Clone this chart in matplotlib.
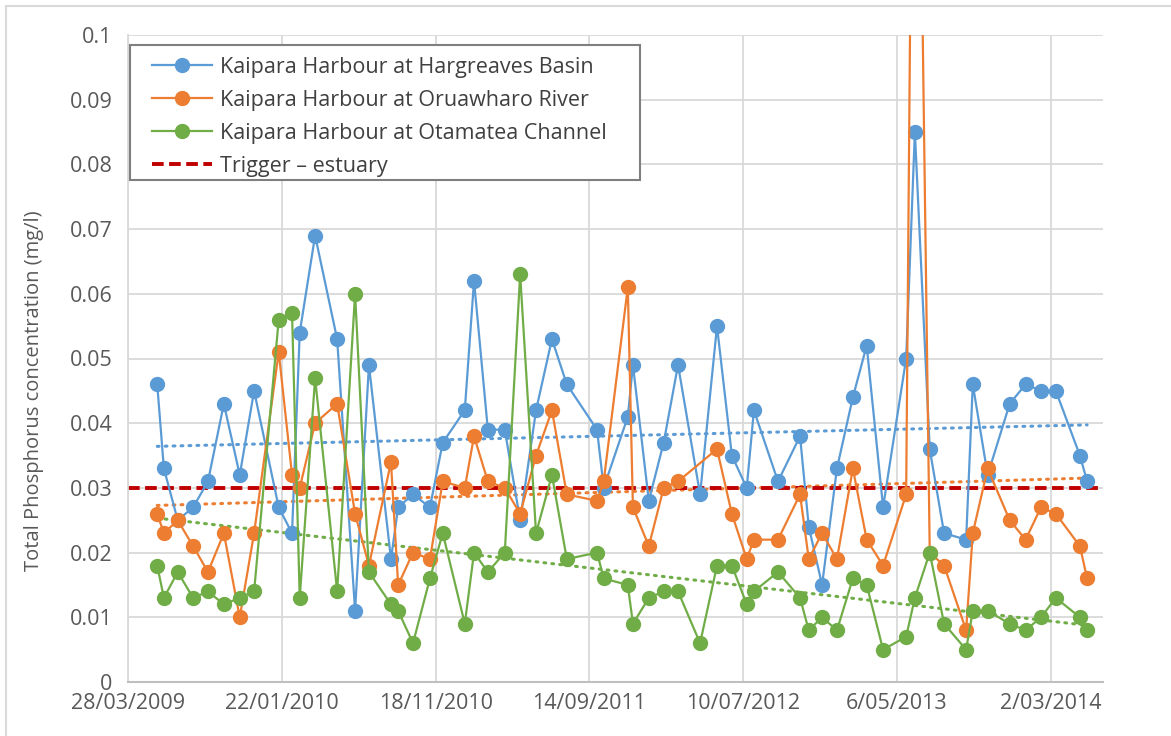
import datetime as dt

import numpy as np
import matplotlib
matplotlib.use("Agg")
import matplotlib.pyplot as plt
import matplotlib.dates as mdates
from matplotlib.lines import Line2D
from matplotlib.legend_handler import HandlerLine2D
from matplotlib.patches import Rectangle
from matplotlib.ticker import FuncFormatter, MultipleLocator

# Sampling dates (shared by the three sites)
dates = [
    "2009-05-24", "2009-06-06", "2009-07-03", "2009-08-02", "2009-08-31",
    "2009-10-01", "2009-11-01", "2009-11-29", "2010-01-16", "2010-02-11",
    "2010-02-26", "2010-03-28", "2010-05-10", "2010-06-14", "2010-07-11",
    "2010-08-23", "2010-09-06", "2010-10-05", "2010-11-07", "2010-12-02",
    "2011-01-14", "2011-02-01", "2011-02-28", "2011-04-02", "2011-05-02",
    "2011-06-02", "2011-07-03", "2011-08-01", "2011-09-29", "2011-10-12",
    "2011-11-28", "2011-12-08", "2012-01-08", "2012-02-06", "2012-03-05",
    "2012-04-17", "2012-05-20", "2012-06-18", "2012-07-17", "2012-07-31",
    "2012-09-16", "2012-10-29", "2012-11-15", "2012-12-11", "2013-01-09",
    "2013-02-09", "2013-03-08", "2013-04-09", "2013-05-24", "2013-06-10",
    "2013-07-09", "2013-08-06", "2013-09-18", "2013-10-01", "2013-10-30",
    "2013-12-12", "2014-01-12", "2014-02-11", "2014-03-12", "2014-04-28",
    "2014-05-12",
]

# Total phosphorus (mg/l)
hargreaves = [
    0.046, 0.033, 0.025, 0.027, 0.031, 0.043, 0.032, 0.045, 0.027, 0.023,
    0.054, 0.069, 0.053, 0.011, 0.049, 0.019, 0.027, 0.029, 0.027, 0.037,
    0.042, 0.062, 0.039, 0.039, 0.025, 0.042, 0.053, 0.046, 0.039, 0.030,
    0.041, 0.049, 0.028, 0.037, 0.049, 0.029, 0.055, 0.035, 0.030, 0.042,
    0.031, 0.038, 0.024, 0.015, 0.033, 0.044, 0.052, 0.027, 0.050, 0.085,
    0.036, 0.023, 0.022, 0.046, 0.032, 0.043, 0.046, 0.045, 0.045, 0.035,
    0.031,
]
oruawharo = [
    0.026, 0.023, 0.025, 0.021, 0.017, 0.023, 0.010, 0.023, 0.051, 0.032,
    0.030, 0.040, 0.043, 0.026, 0.018, 0.034, 0.015, 0.020, 0.019, 0.031,
    0.030, 0.038, 0.031, 0.030, 0.026, 0.035, 0.042, 0.029, 0.028, 0.031,
    0.061, 0.027, 0.021, 0.030, 0.031, np.nan, 0.036, 0.026, 0.019, 0.022,
    0.022, 0.029, 0.019, 0.023, 0.019, 0.033, 0.022, 0.018, 0.029, 0.190,
    0.020, 0.018, 0.008, 0.023, 0.033, 0.025, 0.022, 0.027, 0.026, 0.021,
    0.016,
]
otamatea = [
    0.018, 0.013, 0.017, 0.013, 0.014, 0.012, 0.013, 0.014, 0.056, 0.057,
    0.013, 0.047, 0.014, 0.060, 0.017, 0.012, 0.011, 0.006, 0.016, 0.023,
    0.009, 0.020, 0.017, 0.020, 0.063, 0.023, 0.032, 0.019, 0.020, 0.016,
    0.015, 0.009, 0.013, 0.014, 0.014, 0.006, 0.018, 0.018, 0.012, 0.014,
    0.017, 0.013, 0.008, 0.010, 0.008, 0.016, 0.015, 0.005, 0.007, 0.013,
    0.020, 0.009, 0.005, 0.011, 0.011, 0.009, 0.008, 0.010, 0.013, 0.010,
    0.008,
]
trigger = 0.03

names = [
    "Kaipara Harbour at Hargreaves Basin",
    "Kaipara Harbour at Oruawharo River",
    "Kaipara Harbour at Otamatea Channel",
]
colours = ["#5B9BD5", "#ED7D31", "#70AD47"]

plt.rcParams["font.family"] = ["Open Sans", "DejaVu Sans"]

t = np.array([dt.datetime.strptime(d, "%Y-%m-%d") for d in dates])
tn = mdates.date2num(t)

W, H = 1171, 736
fig = plt.figure(figsize=(W / 100, H / 100), dpi=100)
ax = fig.add_axes([128 / W, 1 - 682 / H, (1103 - 128) / W, (682 - 35) / H])

# outer chart border
fig.patches.append(Rectangle((6 / W, -0.1), 1.2, 1.1 - 6 / H,
                             transform=fig.transFigure, fill=False,
                             edgecolor="#D9D9D9", lw=1.5))

for vals, name, c in zip([hargreaves, oruawharo, otamatea], names, colours):
    v = np.array(vals, dtype=float)
    ok = ~np.isnan(v)
    ax.plot(t[ok], v[ok], color=c, lw=1.6, marker="o", ms=10,
            label=name, zorder=3)
    # linear trend
    k, b = np.polyfit(tn[ok], v[ok], 1)
    ends = np.array([tn[ok][0], tn[ok][-1]])
    ax.plot(mdates.num2date(ends), k * ends + b, color=c, lw=2.2,
            ls=(0, (0.6, 2.0)), dash_capstyle="round", zorder=2.4)

ax.axhline(trigger, color="#C00000", lw=2.8, ls=(0, (3.0, 1.4)),
           label="Trigger – estuary", zorder=2.5)

start = dt.datetime(2009, 3, 28)
ax.set_xlim(start, start + dt.timedelta(days=1902))
ax.set_xticks([start + dt.timedelta(days=300 * i) for i in range(7)])
ax.xaxis.set_major_formatter(FuncFormatter(
    lambda x, pos: "{d.day}/{d.month:02d}/{d.year}".format(d=mdates.num2date(x))))

ax.set_ylim(0, 0.1)
ax.yaxis.set_major_locator(MultipleLocator(0.01))
ax.yaxis.set_major_formatter(FuncFormatter(lambda y, pos: "0" if y == 0 else "%g" % round(y, 2)))

ax.grid(True, color="#D9D9D9", lw=1.3)
ax.set_axisbelow(True)
for s in ["top", "right"]:
    ax.spines[s].set_visible(False)
ax.spines["left"].set_color("#D9D9D9")
ax.spines["left"].set_linewidth(1.3)
ax.spines["bottom"].set_color("#BFBFBF")
ax.spines["bottom"].set_linewidth(1.5)
ax.tick_params(length=0, labelsize=15.5, labelcolor="#595959")
ax.tick_params(axis="x", pad=8)
ax.tick_params(axis="y", pad=11)

ax.set_ylabel("Total Phosphorus concentration (mg/l)", fontsize=14.5,
              color="#595959")
ax.yaxis.set_label_coords(-0.086, 0.45)

leg = ax.legend(loc="upper left", bbox_to_anchor=(130 / W, 1 - 45 / H),
                bbox_transform=fig.transFigure, borderaxespad=0,
                fontsize=15.5, frameon=False,
                handlelength=3.26, handletextpad=0.37, labelspacing=0.56,
                borderpad=0.54,
                handler_map={Line2D: HandlerLine2D(xpad=0.46)})
for txt in leg.get_texts():
    txt.set_color("#404040")
leg.set_zorder(6)
# legend box, wider than the entries
ax.add_patch(Rectangle((130 / W, 1 - 180 / H), 510 / W, 135 / H,
                       transform=fig.transFigure, facecolor="white",
                       edgecolor="#7F7F7F", lw=1.5, zorder=5, clip_on=False))

fig.savefig("out.png", dpi=100)
